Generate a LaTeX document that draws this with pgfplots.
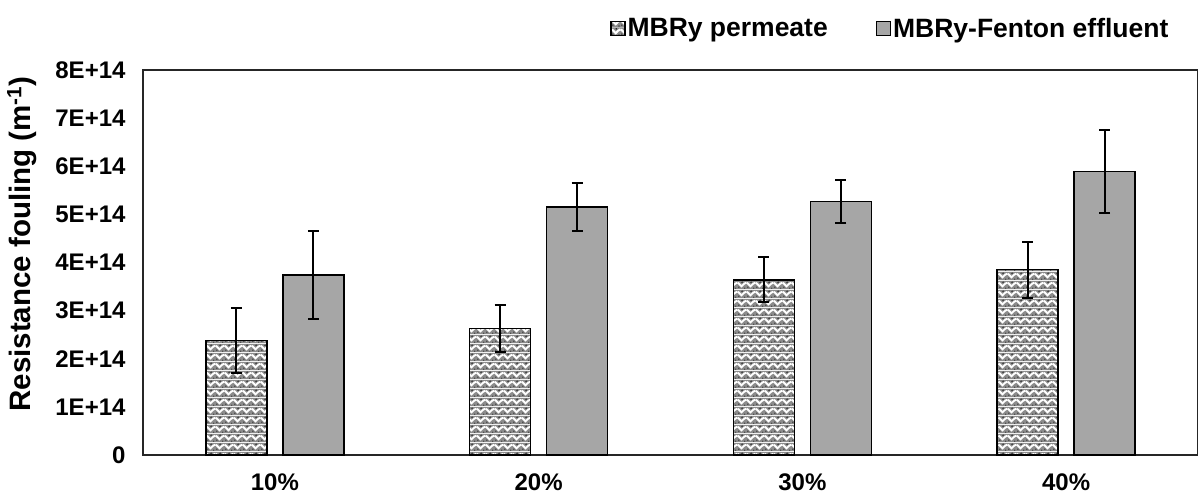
\documentclass[border=0pt]{standalone}
\usepackage{fontspec}
\setmainfont{Liberation Sans}
\usepackage{pgfplots}
\pgfplotsset{compat=1.18}
\usetikzlibrary{patterns}

\definecolor{barGray}{HTML}{A6A6A6}

% herringbone-like texture for the permeate bars
\pgfdeclarepatterninherentlycolored{weave}{\pgfpoint{0pt}{0pt}}{\pgfpoint{9pt}{9pt}}{\pgfpoint{9pt}{9pt}}{%
  \pgfsetfillcolor{black!45}%
  \pgfpathrectangle{\pgfpoint{0pt}{0pt}}{\pgfpoint{9pt}{9pt}}%
  \pgfusepath{fill}%
  \pgfsetstrokecolor{white}%
  \pgfsetlinewidth{2.1pt}%
  \pgfsetbuttcap
  \pgfpathmoveto{\pgfpoint{0pt}{7pt}}%
  \pgfpathlineto{\pgfpoint{4pt}{3pt}}%
  \pgfpathlineto{\pgfpoint{6.5pt}{5.5pt}}%
  \pgfpathlineto{\pgfpoint{9pt}{7pt}}%
  \pgfusepath{stroke}%
  \pgfsetfillcolor{black}%
  \pgfpathcircle{\pgfpoint{4.5pt}{7.5pt}}{0.8pt}%
  \pgfpathcircle{\pgfpoint{1pt}{2pt}}{0.7pt}%
  \pgfpathcircle{\pgfpoint{7.5pt}{1pt}}{0.6pt}%
  \pgfusepath{fill}%
}

% mean values (m^-1) and standard deviations
\pgfplotstableread{
x  y      e
0  2.38e14 0.67e14
1  2.63e14 0.49e14
2  3.64e14 0.47e14
3  3.85e14 0.58e14
}\permeate
\pgfplotstableread{
x  y      e
0  3.74e14 0.91e14
1  5.15e14 0.50e14
2  5.27e14 0.44e14
3  5.89e14 0.87e14
}\fenton

\begin{document}
\begin{tikzpicture}
\useasboundingbox (-143pt,-40pt) rectangle (1055pt,455pt);
\begin{axis}[
  at={(0pt,0pt)}, anchor=south west,
  scale only axis,
  width=1055pt, height=385pt,
  xmin=-0.5, xmax=3.5,
  ymin=0, ymax=8e14,
  scaled y ticks=false,
  ybar=16pt, bar width=61pt,
  xtick={0,1,2,3},
  xticklabels={10\%,20\%,30\%,40\%},
  ytick={0,1e14,2e14,3e14,4e14,5e14,6e14,7e14,8e14},
  yticklabels={0,1E+14,2E+14,3E+14,4E+14,5E+14,6E+14,7E+14,8E+14},
  major tick length=0pt,
  axis line style={black!85, line width=1.3pt},
  tick label style={font=\fontsize{24}{28}\selectfont\bfseries, text=black},
  yticklabel style={xshift=-14pt},
  xticklabel style={yshift=-15pt},
  every axis y label/.style={at={(axis description cs:-0.1147,0.548)}, rotate=90, anchor=center,
    font=\fontsize{29.5}{34}\selectfont\bfseries},
  ylabel={Resistance fouling (m\textsuperscript{-1})},
  legend columns=2,
  legend style={at={(axis description cs:0.4427,1.108)}, anchor=west, draw=none, fill=none,
    font=\fontsize{26.5}{30}\selectfont\bfseries, inner sep=0pt,
    /tikz/every even column/.append style={column sep=46pt}},
  legend image code/.code={\draw[#1,/tikz/.cd,line width=1.3pt] (0pt,-7pt) rectangle (14pt,7pt);},
]
\addplot[draw=black, line width=1.5pt, pattern=weave,
  error bars/.cd, y dir=both, y explicit,
  error bar style={black, line width=1.9pt},
  error mark options={black, line width=1.9pt, rotate=90, mark size=5.5pt}]
  table[x=x, y=y, y error=e] {\permeate};
\addlegendentry{MBRy permeate}
\addplot[draw=black, line width=1.5pt, fill=barGray,
  error bars/.cd, y dir=both, y explicit,
  error bar style={black, line width=1.9pt},
  error mark options={black, line width=1.9pt, rotate=90, mark size=5.5pt}]
  table[x=x, y=y, y error=e] {\fenton};
\addlegendentry{MBRy-Fenton effluent}
\end{axis}
\end{tikzpicture}
\end{document}
